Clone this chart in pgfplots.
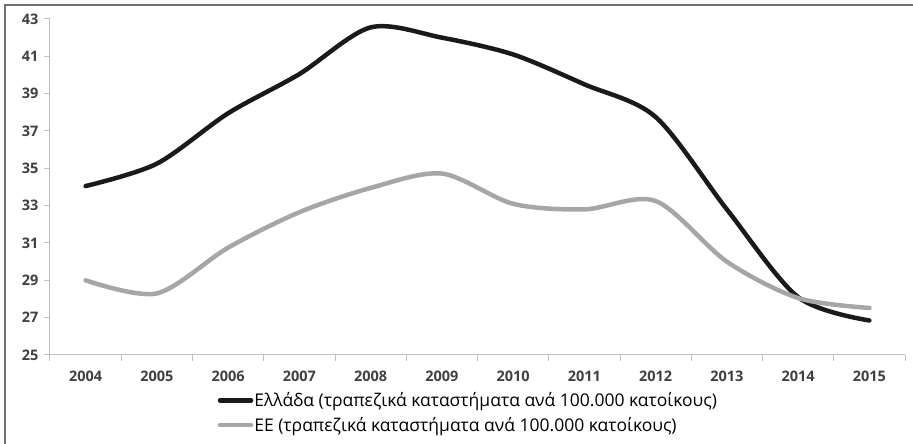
\documentclass[border=0pt]{standalone}
\usepackage{fontspec}
\setmainfont{Open Sans}
\usepackage{pgfplots}
\pgfplotsset{compat=1.18}
\definecolor{grline}{HTML}{1A1A1A}
\definecolor{euline}{HTML}{A6A6A6}
\definecolor{axgray}{HTML}{BFBFBF}
\definecolor{txtgray}{HTML}{404040}
\definecolor{framegray}{HTML}{707070}
\begin{document}
\begin{tikzpicture}[x=1pt,y=1pt]
\useasboundingbox (0,0) rectangle (913,444);
\draw[framegray, line width=2pt] (5,-20) rectangle (940,439);
\begin{axis}[
  at={(50pt,89pt)}, anchor=south west,
  scale only axis, width=855pt, height=336pt,
  xmin=-0.5, xmax=11.5, ymin=25, ymax=43,
  axis x line*=bottom, axis y line*=left,
  axis line style={draw=axgray, line width=1pt},
  tick align=outside,
  xtick={0,...,11},
  xticklabels={2004,2005,2006,2007,2008,2009,2010,2011,2012,2013,2014,2015},
  major x tick style={draw=none},
  minor xtick={-0.5,0.5,...,11.5},
  minor x tick style={draw=axgray, line width=1pt},
  minor tick length=6pt,
  ytick={25,27,...,43},
  major y tick style={draw=axgray, line width=1pt},
  major tick length=6pt,
  /pgf/number format/assume math mode=true,
  tick label style={font=\bfseries\fontsize{14.5}{17}\selectfont, text=txtgray},
  x tick label style={yshift=-6pt},
  y tick label style={xshift=-2pt},
  legend style={at={(0.196,-0.108)}, anchor=north west, draw=none, fill=none,
    font=\fontsize{17.5}{20}\selectfont, text=black, row sep=7pt,
    inner sep=0pt, nodes={inner sep=1pt}},
  legend cell align=left,
  legend image code/.code={\draw[#1] (0pt,0pt) -- (31pt,0pt);},
]
\addplot[grline, line width=4.5pt, smooth, line cap=round] coordinates {
(0,34.05) (1,35.25) (2,37.95) (3,40.05) (4,42.55) (5,42.0) (6,41.1) (7,39.5) (8,37.75) (9,32.8) (10,28.1) (11,26.85)
};
\addlegendentry{Ελλάδα (τραπεζικά καταστήματα ανά 100.000 κατοίκους)}
\addplot[euline, line width=4.5pt, smooth, line cap=round] coordinates {
(0,29.0) (1,28.3) (2,30.75) (3,32.65) (4,33.95) (5,34.72) (6,33.1) (7,32.8) (8,33.25) (9,30.0) (10,28.05) (11,27.52)
};
\addlegendentry{ΕΕ (τραπεζικά καταστήματα ανά 100.000 κατοίκους)}
\end{axis}
\end{tikzpicture}
\end{document}
